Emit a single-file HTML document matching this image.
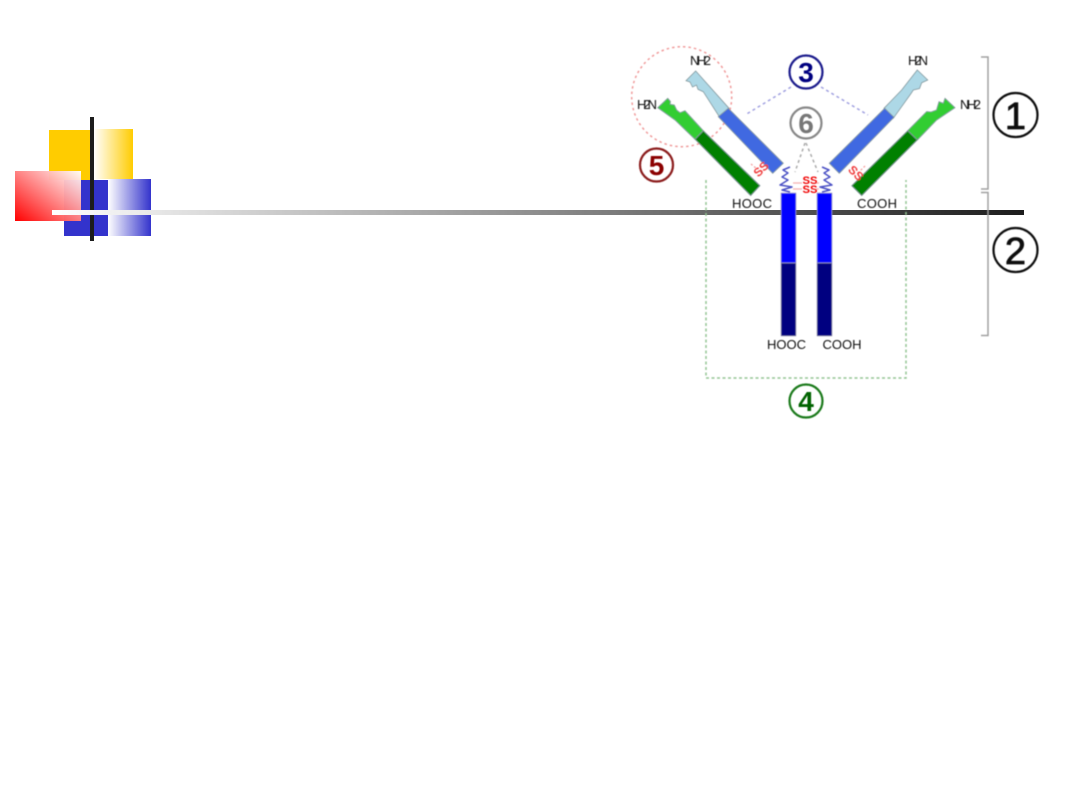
<!DOCTYPE html>
<html>
<head>
<meta charset="utf-8">
<style>
html,body{margin:0;padding:0;background:#fff}
svg{display:block}
text{font-family:"Liberation Sans",sans-serif}
</style>
</head>
<body>
<svg width="1080" height="810" viewBox="0 0 1080 810" xmlns="http://www.w3.org/2000/svg">
<defs>
<linearGradient id="gy" x1="0" x2="1" y1="0" y2="0"><stop offset="0" stop-color="#fff"/><stop offset="1" stop-color="#ffcc00"/></linearGradient>
<linearGradient id="gb" x1="0" x2="1" y1="0" y2="0"><stop offset="0" stop-color="#fff"/><stop offset="1" stop-color="#3333cc"/></linearGradient>
<linearGradient id="gr" x1="0" x2="1" y1="1" y2="0"><stop offset="0" stop-color="#ff0000"/><stop offset="1" stop-color="#ffffff" stop-opacity=".95"/></linearGradient>
<linearGradient id="gl" x1="0" x2="1" y1="0" y2="0"><stop offset="0" stop-color="#fff"/><stop offset="1" stop-color="#1c1c1c"/></linearGradient>
<filter id="soft" x="-5%" y="-5%" width="110%" height="110%"><feGaussianBlur stdDeviation="0.4"/></filter>
</defs>
<rect x="49" y="130" width="43" height="50" fill="#ffcc00"/>
<rect x="94" y="129" width="39" height="50" fill="url(#gy)"/>
<rect x="64" y="180" width="44" height="56" fill="#3333cc"/>
<rect x="108" y="179" width="43" height="57" fill="url(#gb)"/>
<rect x="15" y="171" width="66" height="50" fill="url(#gr)"/>
<rect x="90" y="117" width="4" height="124" fill="#1c1c1c"/>
<rect x="52" y="210" width="972" height="5" fill="url(#gl)"/>

<g filter="url(#soft)">
<!-- dashed guides -->
<circle cx="681.7" cy="96.7" r="50" fill="none" stroke="#f09a9a" stroke-width="1.5" stroke-dasharray="2.500 3"/>
<path d="M706 180V378H906V180" fill="none" stroke="#93c493" stroke-width="1.5" stroke-dasharray="3 2.500"/>
<path d="M791 87L745 115M821 87L868 115" fill="none" stroke="#a0a0e0" stroke-width="1.500" stroke-dasharray="3 3"/>
<path d="M805 143L795 172M806 143L818 172" fill="none" stroke="#aaa" stroke-width="1.500" stroke-dasharray="3 3"/>
<path d="M751 164L757 169M865 166L860 171" fill="none" stroke="#f5a0a0" stroke-width="1.300" stroke-dasharray="2 2"/>
<!-- brackets -->
<path d="M981 57H988V189H981M981 192.500H988V335.500H981" fill="none" stroke="#a0a0a0" stroke-width="1.500"/>

<!-- left arm -->
<g stroke="#80959a" stroke-width=".8">
<path d="M695.700 71L729 108.300L720 117.700L703.300 91.700L698 89.300L696.500 85L692.500 87L690 82L686 80.700Z" fill="#add8e6"/>
<path d="M728.300 108.300L718.300 116.700L772.700 173.300L783.300 163.300Z" fill="#4169e1"/>
<path d="M667.700 98.300L670.500 101.500L670 104.300L674.300 105L676.700 110L680 112.700L685 110.700L703.300 130.700L695 139.300L675 120L657.700 107.700Z" fill="#32cd32"/>
<path d="M703.300 130.700L695 139.300L750.700 195.700L760 185.700Z" fill="#008000"/>
</g>
<!-- right arm -->
<g stroke="#80959a" stroke-width=".8">
<path d="M917.300 70L927.700 80L921.700 82.700L919.500 88.500L913.300 90L911 93.500L893.300 118.300L884 108.300L901.700 90Z" fill="#add8e6"/>
<path d="M884.700 108.300L894 117.300L839.300 173.300L829.300 163.300Z" fill="#4169e1"/>
<path d="M945 98.300L955 107.700L936.700 120L917.300 140L907.700 130.700L926.700 111.500L931 112L936.500 110L939 101.700L943.300 103.300Z" fill="#32cd32"/>
<path d="M907.700 130.700L917.300 140L861.700 195.700L851.700 185.700Z" fill="#008000"/>
</g>

<!-- stalks -->
<rect x="781" y="193" width="15" height="70" fill="#0000ff" stroke="#aab" stroke-width=".6"/>
<rect x="781" y="263" width="15" height="73" fill="#000080" stroke="#aab" stroke-width=".6"/>
<rect x="817" y="193" width="15" height="70" fill="#0000ff" stroke="#aab" stroke-width=".6"/>
<rect x="817" y="263" width="15" height="73" fill="#000080" stroke="#aab" stroke-width=".6"/>

<!-- hinge coils -->
<path d="M790 167L783 170L788 173L782 177L788 180L780 185L792 187L782 190L790 192" fill="none" stroke="#4a50c4" stroke-width="1.500" stroke-linejoin="round"/>
<path d="M822 167L829 170L824 173L830 177L824 180L832 185L820 187L830 190L822 192" fill="none" stroke="#4a50c4" stroke-width="1.500" stroke-linejoin="round"/>
<path d="M793 183H802M793 189H802M811 183H819M811 189H819" stroke="#f5b0b0" stroke-width="1.200"/>

<!-- SS -->
<text x="810" y="184" font-size="11" font-weight="bold" fill="#f00000" text-anchor="middle" textLength="15" lengthAdjust="spacingAndGlyphs">SS</text>
<text x="810" y="193" font-size="11" font-weight="bold" fill="#f00000" text-anchor="middle" textLength="15" lengthAdjust="spacingAndGlyphs">SS</text>
<text font-size="12" font-weight="bold" fill="#f04040" text-anchor="middle" transform="translate(764,172) rotate(-45)">SS</text>
<text font-size="12" font-weight="bold" fill="#f04040" text-anchor="middle" transform="translate(853,176) rotate(45)">SS</text>

<!-- labels -->
<g font-size="13" fill="#111">
<text x="732" y="208" textLength="40" lengthAdjust="spacing">HOOC</text>
<text x="857" y="208" textLength="40" lengthAdjust="spacing">COOH</text>
<text x="767" y="349" textLength="39" lengthAdjust="spacing">HOOC</text>
<text x="822.500" y="349" textLength="39" lengthAdjust="spacing">COOH</text>
<text x="690" y="65" textLength="21" lengthAdjust="spacing">NH2</text>
<text x="637" y="109" textLength="20" lengthAdjust="spacing">H2N</text>
<text x="908" y="65" textLength="20" lengthAdjust="spacing">H2N</text>
<text x="960" y="109" textLength="21" lengthAdjust="spacing">NH2</text>
</g>

<!-- numbered circles -->
<g fill="none" stroke-width="2.200">
<circle cx="1015.500" cy="115" r="22" stroke="#111"/>
<circle cx="1015.500" cy="250" r="22" stroke="#111"/>
<circle cx="806" cy="72" r="16.500" stroke="#1a1a8c"/>
<circle cx="806" cy="123" r="15.500" stroke="#888"/>
<circle cx="656.500" cy="165" r="16.500" stroke="#8b1a1a"/>
<circle cx="806" cy="401" r="16.500" stroke="#1a7a1a"/>
</g>
<g text-anchor="middle" font-weight="bold">
<text x="1015.500" y="129" font-size="38" fill="#111" font-weight="normal" stroke="#111" stroke-width=".8">1</text>
<text x="1015.500" y="264" font-size="38" fill="#111" font-weight="normal" stroke="#111" stroke-width=".8">2</text>
<text x="806" y="82" font-size="28" fill="#000080">3</text>
<text x="806" y="133" font-size="28" fill="#777">6</text>
<text x="656.500" y="175" font-size="28" fill="#8b0000">5</text>
<text x="806" y="411" font-size="28" fill="#006400">4</text>
</g>
</g>
</svg>
</body>
</html>
